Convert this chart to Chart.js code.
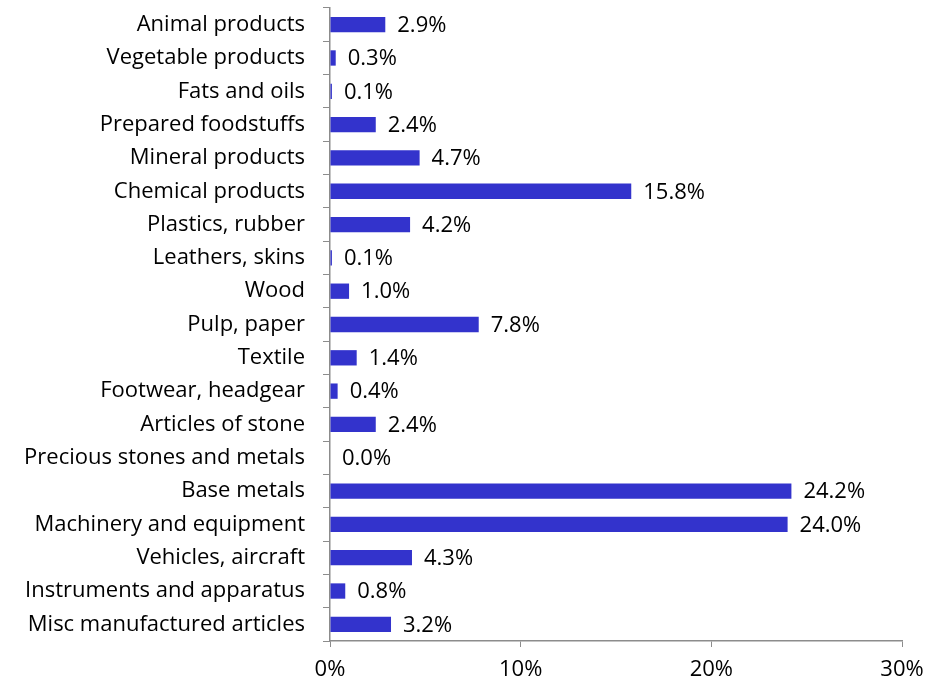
<!DOCTYPE html>
<html lang="en">
<head>
  <meta charset="UTF-8">
  <title>Export structure by product group</title>
  <script src="https://cdn.jsdelivr.net/npm/chart.js"></script>
  <style>
    html, body {
      margin: 0;
      padding: 0;
      background: #ffffff;
    }
  </style>
</head>
<body>
  <canvas id="shareChart" width="926" height="683"></canvas>
  <script>
    const categories = [
      'Animal products', 'Vegetable products', 'Fats and oils', 'Prepared foodstuffs',
      'Mineral products', 'Chemical products', 'Plastics, rubber', 'Leathers, skins',
      'Wood', 'Pulp, paper', 'Textile', 'Footwear, headgear', 'Articles of stone',
      'Precious stones and metals', 'Base metals', 'Machinery and equipment',
      'Vehicles, aircraft', 'Instruments and apparatus', 'Misc manufactured articles'
    ];
    const shares = [2.9, 0.3, 0.1, 2.4, 4.7, 15.8, 4.2, 0.1, 1.0, 7.8, 1.4, 0.4, 2.4, 0.0, 24.2, 24.0, 4.3, 0.8, 3.2];
    const xTicks = [0, 10, 20, 30];

    const FONT = '"Open Sans", Lato, sans-serif';
    const FONT_SIZE = 22;
    const AXIS_GREY = '#8c8c8c';

    // value labels to the right of each bar
    const valueLabels = {
      id: 'valueLabels',
      afterDatasetsDraw(chart) {
        const ctx = chart.ctx;
        const meta = chart.getDatasetMeta(0);
        ctx.save();
        ctx.font = FONT_SIZE + 'px ' + FONT;
        ctx.fillStyle = '#000';
        ctx.textAlign = 'left';
        ctx.textBaseline = 'middle';
        meta.data.forEach((bar, i) => {
          ctx.fillText(shares[i].toFixed(1) + '%', bar.x + 12, bar.y + 1);
        });
        ctx.restore();
      }
    };

    const ctx = document.getElementById('shareChart').getContext('2d');
    new Chart(ctx, {
      type: 'bar',
      data: {
        labels: categories,
        datasets: [{
          data: shares,
          backgroundColor: '#3333cc',
          borderWidth: 0,
          categoryPercentage: 1,
          barPercentage: 0.46
        }]
      },
      options: {
        indexAxis: 'y',
        responsive: false,
        animation: false,
        devicePixelRatio: 1,
        layout: { padding: { top: 8, right: 24, left: 0, bottom: 0 } },
        plugins: {
          legend: { display: false },
          tooltip: { enabled: false }
        },
        scales: {
          x: {
            min: 0,
            max: 30,
            afterBuildTicks(axis) {
              axis.ticks = xTicks.map(v => ({ value: v }));
            },
            afterFit(axis) {
              axis.height = 42;
              axis.paddingLeft = 0;
              axis.paddingRight = 0;
            },
            grid: {
              drawOnChartArea: false,
              color: AXIS_GREY,
              tickLength: 6
            },
            border: { color: AXIS_GREY, width: 1.5 },
            ticks: {
              color: '#000',
              font: { family: FONT, size: FONT_SIZE },
              padding: 10,
              maxRotation: 0,
              callback: v => v + '%'
            }
          },
          y: {
            afterFit(axis) {
              axis.width = 330;
              axis.paddingTop = 0;
              axis.paddingBottom = 0;
            },
            grid: {
              drawOnChartArea: false,
              offset: true,
              color: AXIS_GREY,
              tickLength: 7
            },
            border: { color: AXIS_GREY, width: 1.5 },
            ticks: {
              color: '#000',
              font: { family: FONT, size: FONT_SIZE },
              padding: 18,
              autoSkip: false
            }
          }
        }
      },
      plugins: [valueLabels]
    });
  </script>
</body>
</html>
